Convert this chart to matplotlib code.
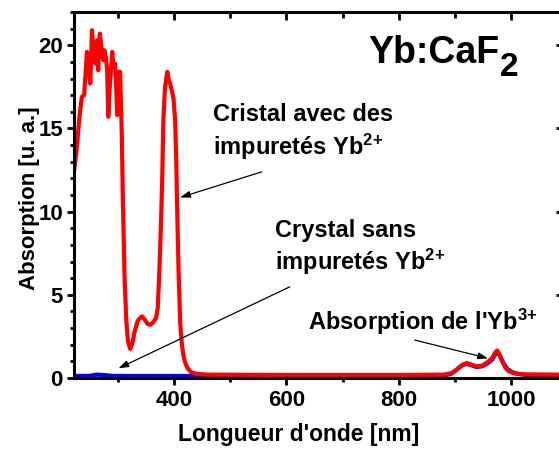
import matplotlib
matplotlib.use("Agg")
import matplotlib.pyplot as plt
from matplotlib.ticker import MultipleLocator

plt.rcParams["font.family"] = ["Liberation Sans", "DejaVu Sans"]
plt.rcParams["font.weight"] = "bold"
plt.rcParams["mathtext.fontset"] = "custom"
plt.rcParams["mathtext.rm"] = "Liberation Sans:bold"
plt.rcParams["mathtext.it"] = "Liberation Sans:bold"
plt.rcParams["mathtext.bf"] = "Liberation Sans:bold"

# =========================
# SPECTRES
# =========================
# cristal avec impuretes Yb2+
lambda_rouge = [222, 226, 232, 236, 240, 243, 245, 248, 251, 254, 257, 260, 263, 265,
                268, 271, 274, 276, 279, 281, 283, 286, 290, 292, 295, 297, 299, 300,
                304, 307, 309, 312, 315, 318, 322, 326, 330, 335, 338, 343, 348, 353,
                358, 363, 368, 371, 374, 377, 379, 381, 384, 388, 390, 393, 396, 399,
                402, 404, 406, 408, 411, 414, 417, 420, 424, 430, 440, 460, 600, 800,
                880, 895, 905, 914, 921, 928, 938, 948, 958, 966, 972, 975, 978, 984,
                990, 996, 1005, 1020, 1094]
abs_rouge = [12.4, 13.5, 15.8, 16.9, 17.0, 18.5, 19.6, 18.8, 17.7, 20.9, 19.5, 18.9, 20.3, 18.5,
             20.7, 19.8, 19.1, 19.7, 19.2, 18.5, 15.7, 17.7, 19.6, 18.7, 18.9, 17.5, 15.8, 18.4,
             18.4, 14.7, 10.7, 6.0, 3.5, 2.2, 1.75, 2.1, 2.8, 3.4, 3.55, 3.7, 3.5, 3.25,
             3.2, 3.35, 3.6, 4.2, 6.5, 9.5, 12.0, 15.5, 17.5, 18.4, 18.0, 17.7, 17.3, 16.8,
             15.5, 13.0, 9.5, 6.5, 3.3, 2.0, 1.3, 0.9, 0.6, 0.35, 0.25, 0.2, 0.18, 0.18,
             0.2, 0.3, 0.55, 0.8, 0.9, 0.82, 0.7, 0.74, 0.95, 1.2, 1.55, 1.65, 1.5, 1.0,
             0.6, 0.4, 0.28, 0.22, 0.2]

# cristal sans impuretes
lambda_bleu = [222, 250, 262, 275, 290, 320, 400, 600, 800, 880, 893, 903, 912, 920,
               928, 938, 948, 958, 966, 972, 975, 979, 986, 993, 1000, 1010, 1025, 1094]
abs_bleu = [0.12, 0.13, 0.2, 0.18, 0.13, 0.12, 0.12, 0.12, 0.12, 0.14, 0.25, 0.5, 0.75, 0.85,
            0.78, 0.66, 0.7, 0.88, 1.1, 1.45, 1.58, 1.4, 0.9, 0.55, 0.38, 0.26, 0.18, 0.14]

# =========================
# FIGURE
# =========================
fig = plt.figure(figsize=(5.59, 4.51), dpi=100)
ax = fig.add_axes([0.1324, 0.1619, 0.8766, 0.8115])

ax.plot(lambda_bleu, abs_bleu, color="#0000ff", lw=3)
ax.plot(lambda_rouge, abs_rouge, color="#ff0000", lw=3)

ax.set_xlim(222, 1094)
ax.set_ylim(0, 22)

ax.xaxis.set_major_locator(MultipleLocator(200))
ax.xaxis.set_minor_locator(MultipleLocator(100))
ax.yaxis.set_major_locator(MultipleLocator(5))
ax.yaxis.set_minor_locator(MultipleLocator(1))

for s in ax.spines.values():
    s.set_linewidth(2.2)

ax.tick_params(which="major", direction="out", length=5, width=2, labelsize=16, pad=3)
ax.tick_params(which="minor", direction="out", length=3, width=2)
ax.tick_params(axis="x", which="major", pad=4)

# ticks vers l'interieur en haut et a droite
haut = ax.secondary_xaxis("top")
haut.xaxis.set_major_locator(MultipleLocator(200))
haut.xaxis.set_minor_locator(MultipleLocator(100))
haut.tick_params(which="major", direction="in", length=6, width=2, labeltop=False)
haut.tick_params(which="minor", direction="in", length=4, width=2)
droite = ax.secondary_yaxis("right")
droite.yaxis.set_major_locator(MultipleLocator(5))
droite.yaxis.set_minor_locator(MultipleLocator(1))
droite.tick_params(which="major", direction="in", length=6, width=2, labelright=False)
droite.tick_params(which="minor", direction="in", length=3, width=2)

ax.set_xlabel("Longueur d'onde [nm]", fontsize=16.5, fontweight="bold")
ax.set_ylabel("Absorption [u. a.]", fontsize=16, fontweight="bold")
ax.xaxis.set_label_coords(0.458, -0.122)
ax.yaxis.set_label_coords(-0.07, 0.49)

# =========================
# TEXTES ET FLECHES
# =========================
titre = ax.text(745, 18.95, "Yb:CaF", fontsize=27, fontweight="bold", va="baseline")
ax.annotate("2", xy=(1, 0), xycoords=titre, xytext=(0.5, -9), textcoords="offset points",
            fontsize=24, fontweight="bold", va="bottom")

fleche = dict(arrowstyle="-|>,head_length=0.6,head_width=0.2", color="black", lw=0.9,
              shrinkA=0, shrinkB=0, mutation_scale=10)

ax.text(469, 15.45, "Cristal avec des", fontsize=17, va="baseline")
ax.text(469, 13.39, r"impuretés Yb$^{2\!+}$", fontsize=17, va="baseline")
ax.annotate("", xy=(410.7, 10.85), xytext=(556, 12.39), arrowprops=fleche)

ax.text(579.6, 8.49, "Crystal sans", fontsize=17, va="baseline")
ax.text(579.6, 6.49, r"impuretés Yb$^{2\!+}$", fontsize=17, va="baseline")
ax.annotate("", xy=(301, 0.58), xytext=(606, 5.48), arrowprops=fleche)

ax.text(638, 2.88, r"Absorption de l'Yb$^{3\!+}$", fontsize=17, va="baseline")
ax.annotate("", xy=(958.8, 1.18), xytext=(828.4, 2.28), arrowprops=fleche)

fig.savefig("out.png", dpi=100)
